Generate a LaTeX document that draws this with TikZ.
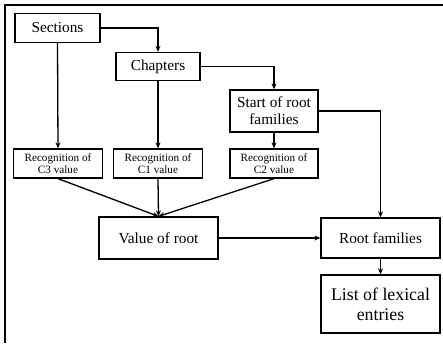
\documentclass[tikz,border=0pt]{standalone}
\usepackage{fontspec}
\setmainfont{Liberation Serif}
\usetikzlibrary{arrows.meta}
\begin{document}
\begin{tikzpicture}[x=1pt,y=-1pt,
  box/.style={draw,line width=1.3pt,inner sep=0pt,align=center,font=\fontsize{15.3}{17}\selectfont},
  smallbox/.style={box,font=\fontsize{11.2}{11.5}\selectfont},
  arr/.style={line width=1.3pt,-{Stealth[length=6pt,width=5pt]}},
  ln/.style={line width=1.3pt}]
\useasboundingbox (0,0) rectangle (443,343);
\draw[line width=2.5pt] (5,343) -- (5,5) -- (443,5);
% boxes: (x1,y1) to (x2,y2)
\node[box,minimum width=85pt,minimum height=29pt] (sec) at (57.5,28) {Sections};
\node[box,minimum width=84pt,minimum height=28pt] (chap) at (158,66.5) {Chapters};
\node[box,minimum width=88pt,minimum height=42pt] (start) at (274,111) {Start of root\\families};
\node[smallbox,minimum width=89pt,minimum height=29pt] (c3) at (58,163.5) {Recognition of\\C3 value};
\node[smallbox,minimum width=89pt,minimum height=29pt] (c1) at (158,163.5) {Recognition of\\C1 value};
\node[smallbox,minimum width=88pt,minimum height=29pt] (c2) at (274,163.5) {Recognition of\\C2 value};
\node[box,minimum width=119pt,minimum height=42pt] (val) at (158.5,238) {Value of root};
\node[box,minimum width=119pt,minimum height=40pt] (rf) at (380.5,238) {Root families};
\node[box,minimum width=119pt,minimum height=58pt,font=\fontsize{17.8}{20}\selectfont] (list) at (380.5,304) {List of lexical\\entries};
% connectors
\draw[arr] (sec.east) -| (chap.north);
\draw[arr] (chap.east) -| (start.north);
\draw[arr] (start.east) -| (rf.north);
\draw[arr] (sec.south) -- (c3.north);
\draw[arr] (chap.south) -- (c1.north);
\draw[arr] (start.south) -- (c2.north);
\draw[arr] (c3.south) -- (val.north);
\draw[arr] (c1.south) -- (val.north);
\draw[arr] (c2.south) -- (val.north);
\draw[arr] (val.east) -- (rf.west);
\draw[arr] (rf.south) -- (list.north);
\end{tikzpicture}
\end{document}
